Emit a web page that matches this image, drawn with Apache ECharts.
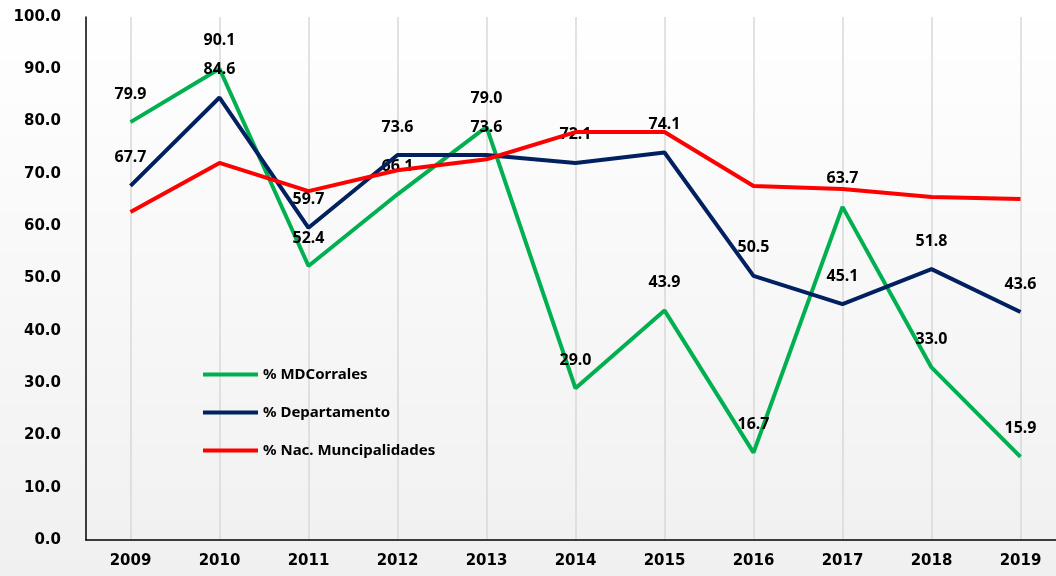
<!DOCTYPE html>
<html>
<head>
<meta charset="utf-8">
<script src="https://cdn.jsdelivr.net/npm/echarts@6/dist/echarts.min.js"></script>
<style>
  html, body { margin: 0; padding: 0; overflow: hidden; }
  #chart { width: 1065px; height: 576px; }
</style>
</head>
<body>
<div id="chart"></div>
<script>
// datos del gráfico
var years = ["2009", "2010", "2011", "2012", "2013", "2014", "2015", "2016", "2017", "2018", "2019"];
var mdCorrales = [79.9, 90.1, 52.4, 66.1, 79.0, 29.0, 43.9, 16.7, 63.7, 33.0, 15.9];
var departamento = [67.7, 84.6, 59.7, 73.6, 73.6, 72.1, 74.1, 50.5, 45.1, 51.8, 43.6];
var nacMunicipalidades = [62.7, 72.1, 66.7, 70.7, 72.8, 78.0, 78.0, 67.7, 67.1, 65.6, 65.2];

var myChart = echarts.init(document.getElementById("chart"));

var labelStyle = {
  show: true,
  position: "top",
  distance: 20,
  color: "#000",
  fontFamily: "Noto Sans",
  fontWeight: "bold",
  fontSize: 16,
  formatter: function (p) {
    return p.value.toFixed(1);
  },
};

var option = {
  backgroundColor: {
    type: "linear",
    x: 0, y: 0, x2: 0, y2: 1,
    colorStops: [
      { offset: 0, color: "#ffffff" },
      { offset: 1, color: "#f0f0f0" },
    ],
  },
  color: ["#00B050", "#002060", "#FF0000"],
  legend: {
    orient: "vertical",
    left: 198,
    top: 362,
    itemGap: 23,
    itemWidth: 55,
    itemHeight: 4,
    icon: "rect",
    textStyle: {
      color: "#000",
      fontFamily: "Noto Sans",
      fontWeight: "bold",
      fontSize: 15,
    },
    data: ["% MDCorrales", "% Departamento", "% Nac. Muncipalidades"],
  },
  grid: {
    left: 86,
    right: 0,
    top: 17,
    bottom: 36,
  },
  xAxis: {
    type: "category",
    data: years,
    boundaryGap: true,
    axisLine: { lineStyle: { color: "#000", width: 1.5 } },
    axisTick: { show: false },
    splitLine: {
      show: true,
      alignWithLabel: true,
      lineStyle: { color: "#d9d9d9", width: 1.5 },
    },
    axisLabel: {
      color: "#000",
      fontFamily: "DejaVu Sans",
      fontWeight: "bold",
      fontSize: 15,
      margin: 14,
    },
  },
  yAxis: {
    type: "value",
    min: 0,
    max: 100,
    interval: 10,
    axisLine: { show: true, lineStyle: { color: "#000", width: 1.5 } },
    axisTick: { show: false },
    splitLine: { show: false },
    axisLabel: {
      color: "#000",
      fontFamily: "DejaVu Sans",
      fontWeight: "bold",
      fontSize: 15,
      margin: 25,
      formatter: function (v) {
        return v.toFixed(1);
      },
    },
  },
  series: [
    {
      name: "% MDCorrales",
      type: "line",
      data: mdCorrales,
      symbol: "circle",
      symbolSize: 0,
      showSymbol: true,
      lineStyle: { width: 4 },
      label: labelStyle,
      z: 3,
    },
    {
      name: "% Departamento",
      type: "line",
      data: departamento,
      symbol: "circle",
      symbolSize: 0,
      showSymbol: true,
      lineStyle: { width: 4 },
      label: labelStyle,
      z: 4,
    },
    {
      name: "% Nac. Muncipalidades",
      type: "line",
      data: nacMunicipalidades,
      symbol: "none",
      lineStyle: { width: 4 },
      z: 5,
    },
  ],
};

myChart.setOption(option);
</script>
</body>
</html>
